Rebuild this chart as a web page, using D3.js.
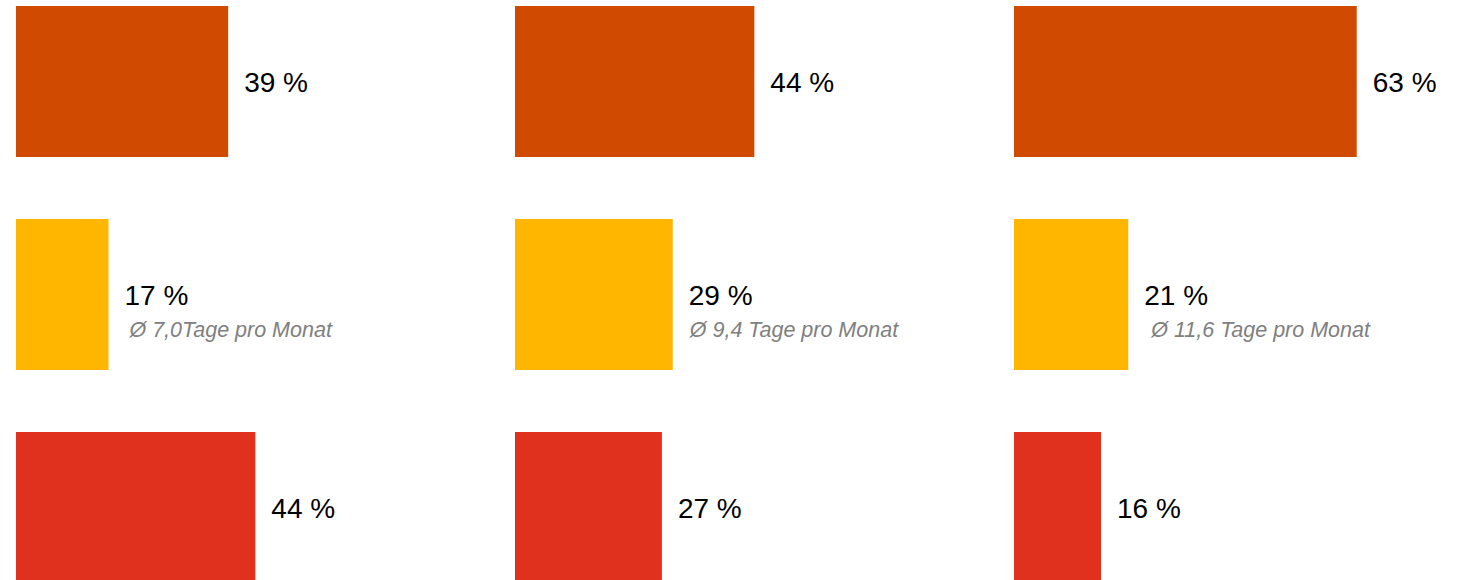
<!DOCTYPE html>
<html>
<head>
<meta charset="utf-8">
<script src="https://cdn.jsdelivr.net/npm/d3@7"></script>
<style>
  html, body { margin: 0; padding: 0; background: #fff; }
  svg { display: block; }
</style>
</head>
<body>
<svg id="chart" width="1463" height="580"></svg>
<script>
// Three groups, each with three shares (percent)
const groups = ["A", "B", "C"];
const rows = ["top", "middle", "bottom"];
const valuesTop = [39, 44, 63];
const valuesMiddle = [17, 29, 21];
const valuesBottom = [44, 27, 16];
const middleNotes = ["Ø 7,0Tage pro Monat", "Ø 9,4 Tage pro Monat", "Ø 11,6 Tage pro Monat"];
const rowColors = ["#D04A02", "#FFB600", "#E0301E"];

// layout
const groupX = d3.scaleBand().domain(groups).range([16, 16 + 3 * 499]).paddingInner(0).paddingOuter(0);
const y = d3.scaleBand().domain(rows).range([6, 583]).paddingInner(62 / 213).paddingOuter(0);
const x = d3.scaleLinear().domain([0, 100]).range([0, 544]);
const labelGap = 16;
const noteShift = [5, 1, 7];

const svg = d3.select("#chart");

const seriesByRow = [valuesTop, valuesMiddle, valuesBottom];
const cells = [];
groups.forEach((g, gi) => {
  rows.forEach((r, ri) => {
    cells.push({ group: g, gi, row: r, ri, value: seriesByRow[ri][gi] });
  });
});

const cell = svg.selectAll("g.cell")
  .data(cells)
  .join("g")
  .attr("class", "cell")
  .attr("transform", d => `translate(${groupX(d.group)},${y(d.row)})`);

cell.append("rect")
  .attr("x", 0)
  .attr("y", 0)
  .attr("width", d => x(d.value))
  .attr("height", y.bandwidth())
  .attr("fill", d => rowColors[d.ri]);

cell.append("text")
  .attr("x", d => x(d.value) + labelGap)
  .attr("y", y.bandwidth() / 2 + 10.5)
  .attr("font-family", "'Liberation Sans', Arial, sans-serif")
  .attr("font-size", 28)
  .attr("fill", "#000")
  .text(d => `${d.value} %`);

cell.filter(d => d.row === "middle")
  .append("text")
  .attr("x", d => x(d.value) + labelGap + noteShift[d.gi])
  .attr("y", y.bandwidth() / 2 + 42)
  .attr("font-family", "'Liberation Sans', Arial, sans-serif")
  .attr("font-style", "italic")
  .attr("font-size", 21.5)
  .attr("fill", "#808080")
  .text(d => middleNotes[d.gi]);
</script>
</body>
</html>
